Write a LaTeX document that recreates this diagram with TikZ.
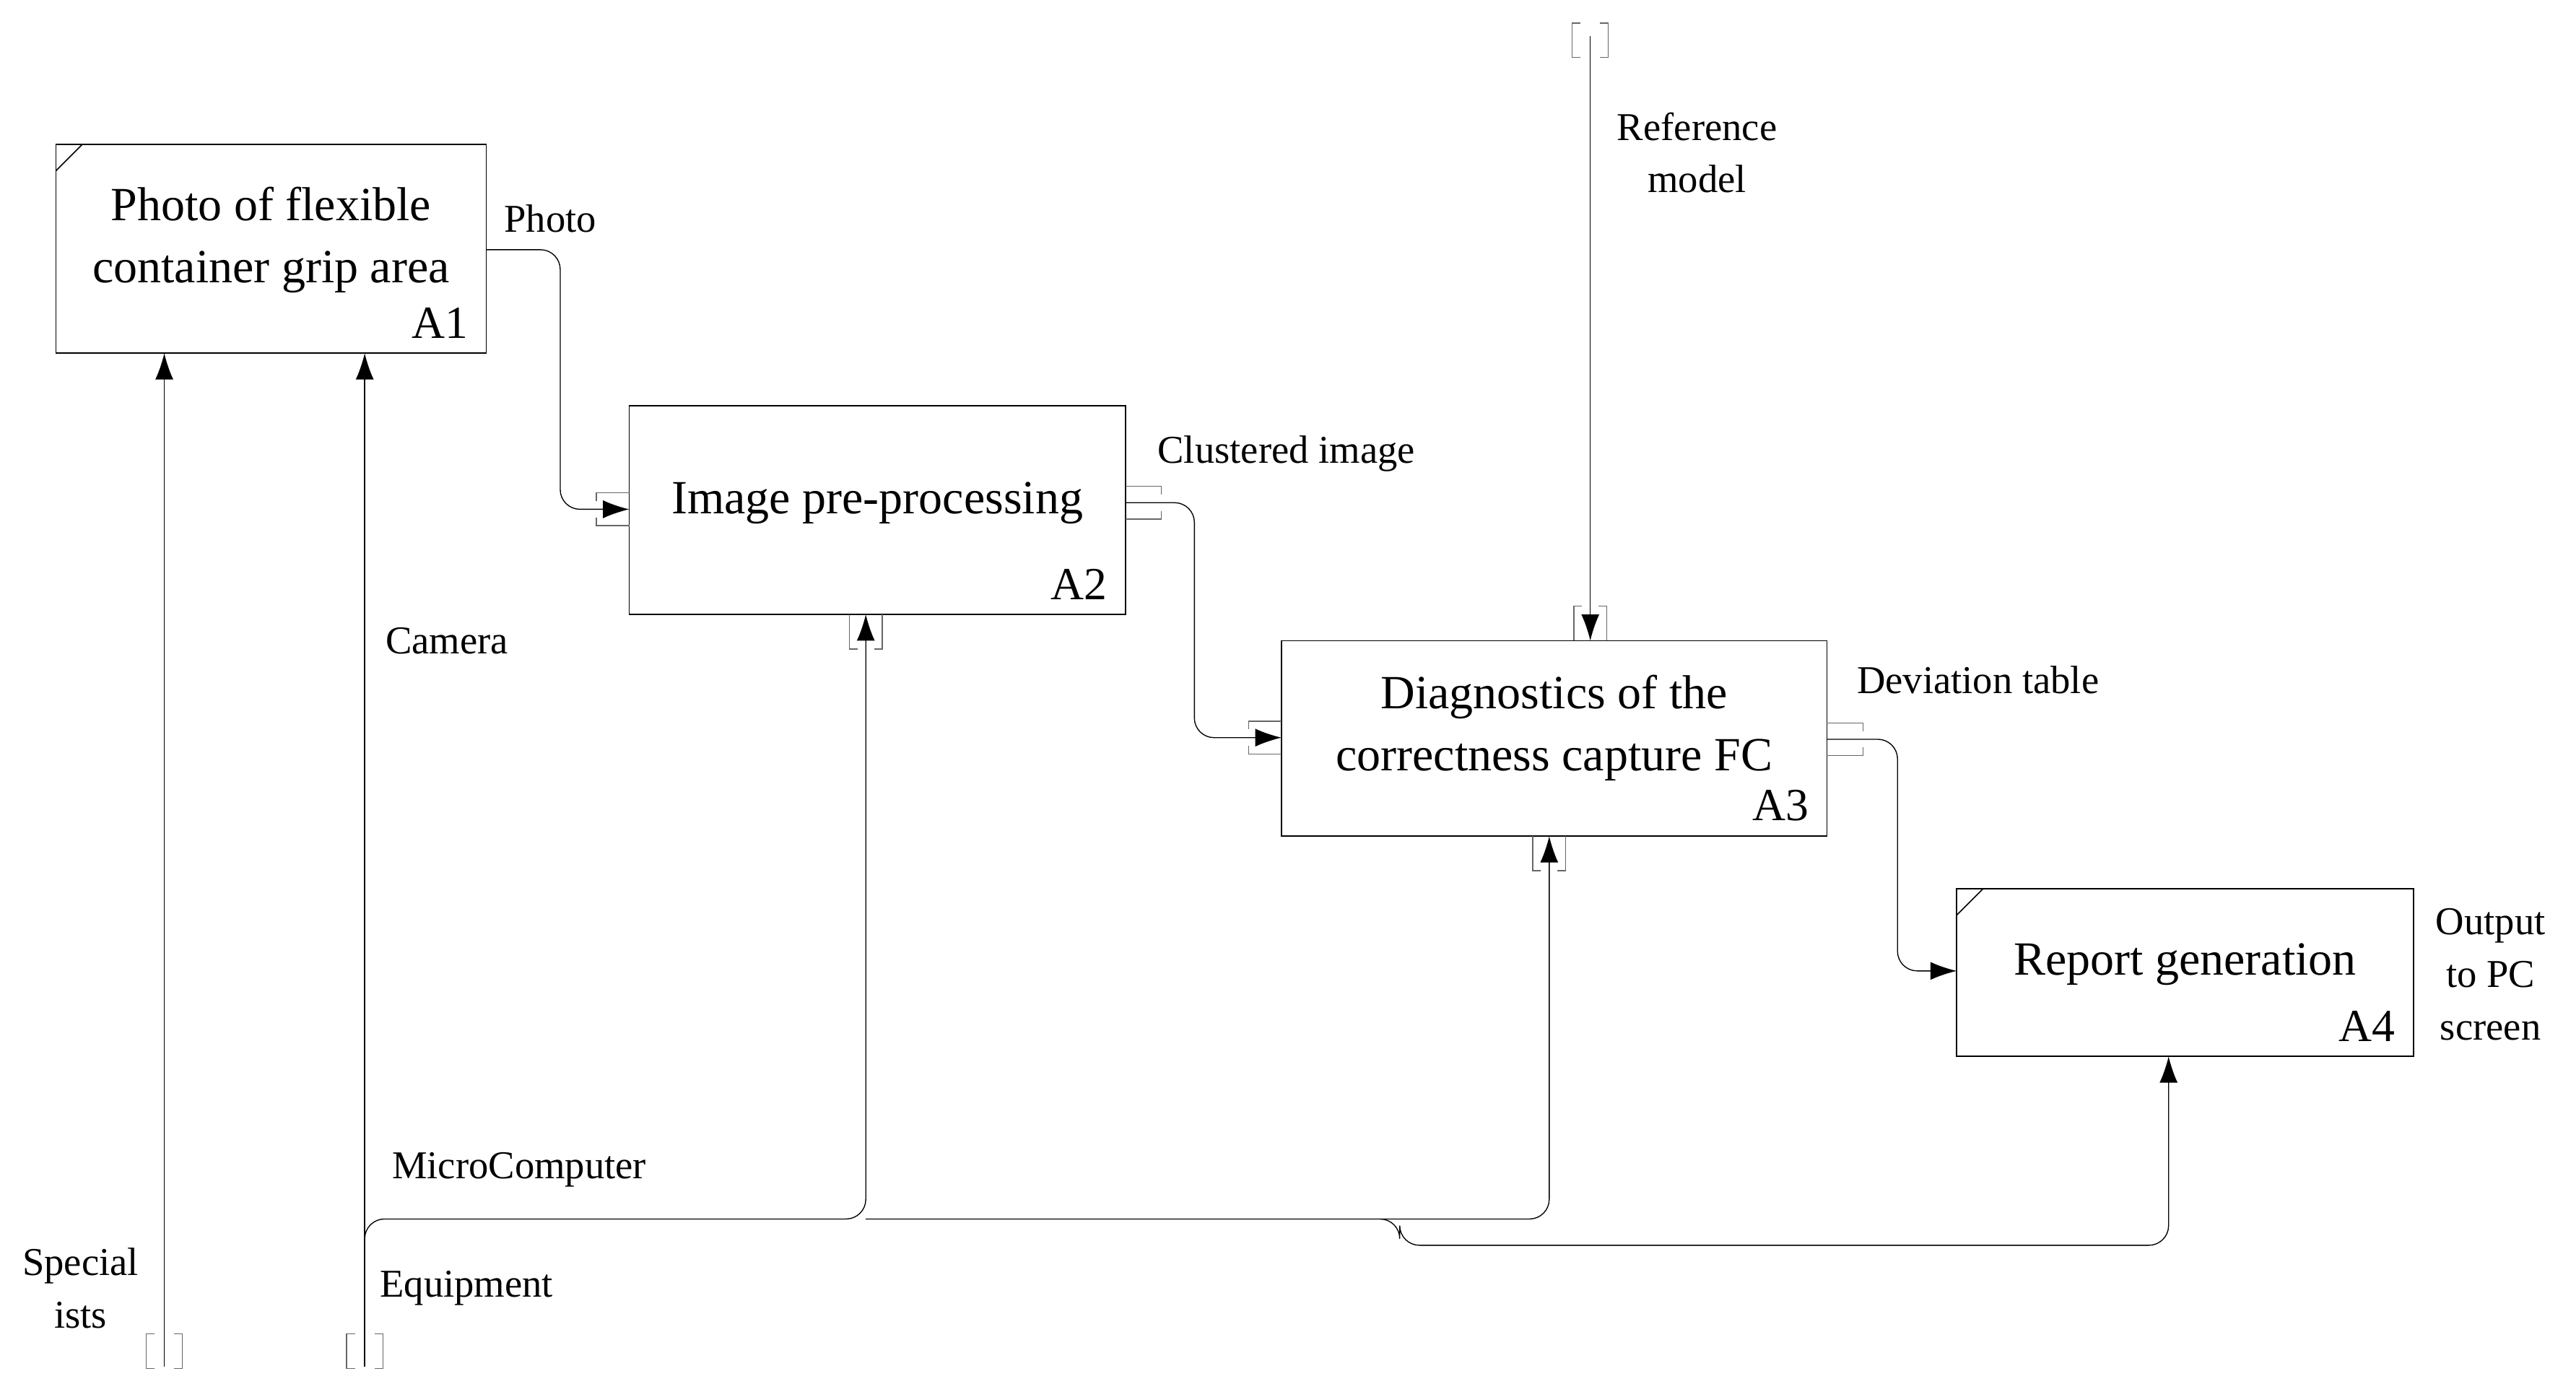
\documentclass[tikz,border=0pt]{standalone}
\usepackage{fontspec}
\setmainfont{Liberation Serif}
\usetikzlibrary{arrows.meta}
\begin{document}
\begin{tikzpicture}[x=0.5pt,y=-0.5pt,
 box/.style={draw,line width=0.35pt},
 con/.style={line width=0.3pt,-{Latex[length=8pt,width=5.5pt]},rounded corners=6pt},
 lbl/.style={font=\fontsize{12}{16}\selectfont,align=center},
 big/.style={font=\fontsize{14.5}{19}\selectfont,align=center},
 num/.style={font=\fontsize{14}{16}\selectfont},
 tun/.style={line width=0.3pt,gray!80!black}]
\useasboundingbox (0,0) rectangle (1568,850);
% boxes
\draw[box] (34,88) rectangle (296,215);
\draw[box] (34,104)--(50,88);
\node[big] (t1) at (165,146) {Photo of flexible\\container grip area};
\node[num,anchor=south east] at (292,213) {A1};
\draw[box] (383,247) rectangle (685,374);
\node[big] (t2) at (534,306) {Image pre-processing};
\node[num,anchor=south east] at (681,372) {A2};
\draw[box] (780,390) rectangle (1112,509);
\node[big] (t3) at (946,443) {Diagnostics of the\\correctness capture FC};
\node[num,anchor=south east] at (1108,507) {A3};
\draw[box] (1191,541) rectangle (1469,643);
\draw[box] (1191,557)--(1207,541);
\node[big] (t4) at (1330,587) {Report generation};
\node[num,anchor=south east] at (1465,641) {A4};
% coordinates
\coordinate (o1) at (296,152); \coordinate (i2) at (383,310);
\coordinate (o2) at (685,306); \coordinate (i3) at (780,449);
\coordinate (o3) at (1112,450); \coordinate (i4) at (1191,591);
\coordinate (rt) at (968,22); \coordinate (c3) at (968,390);
\coordinate (sb) at (100,832); \coordinate (s1) at (100,215);
\coordinate (eb) at (222,832); \coordinate (e1) at (222,215);
\coordinate (m2) at (527,374); \coordinate (m3) at (943,509); \coordinate (m4) at (1320,643);
% connectors
\draw[con] (o1)--(341,152)--(341,310)--(i2);
\draw[con] (o2)--(727,306)--(727,449)--(i3);
\draw[con] (o3)--(1155,450)--(1155,591)--(i4);
\draw[con] (rt)--(c3);
\draw[con] (sb)--(s1);
\draw[con] (eb)--(e1);
\draw[con] (222,760)--(222,742)--(527,742)--(m2);
\draw[con] (527,742)--(943,742)--(m3);
\draw[con] (840,742)--(852,742)--(852,758)--(1320,758)--(m4);
% tunnels
\foreach \x/\y in {383/310,780/449}{
 \draw[tun] (\x,\y-10)--(\x-20,\y-10)--(\x-20,\y-5);
 \draw[tun] (\x,\y+10)--(\x-20,\y+10)--(\x-20,\y+5);}
\foreach \x/\y in {685/306,1112/450}{
 \draw[tun] (\x,\y-10)--(\x+22,\y-10)--(\x+22,\y-5);
 \draw[tun] (\x,\y+10)--(\x+22,\y+10)--(\x+22,\y+5);}
\foreach \x/\y in {527/374,943/509}{
 \draw[tun] (\x-10,\y)--(\x-10,\y+21)--(\x-5,\y+21);
 \draw[tun] (\x+10,\y)--(\x+10,\y+21)--(\x+5,\y+21);}
\draw[tun] (958,390)--(958,369)--(963,369); \draw[tun] (978,390)--(978,369)--(973,369);
\foreach \x/\y in {968/14,100/812,222/812}{
 \draw[tun] (\x-6,\y)--(\x-11,\y)--(\x-11,\y+21)--(\x-6,\y+21);
 \draw[tun] (\x+6,\y)--(\x+11,\y)--(\x+11,\y+21)--(\x+6,\y+21);}
% labels
\node[lbl] (lp) at (335,133) {Photo};
\node[lbl] (lc) at (783,276) {Clustered image};
\node[lbl] (ld) at (1204,414) {Deviation table};
\node[lbl] (lr) at (1033,93) {Reference\\model};
\node[lbl] (ls) at (49,784) {Special\\ists};
\node[lbl] (lca) at (272,390) {Camera};
\node[lbl] (lm) at (316,712) {MicroComputer};
\node[lbl] (le) at (284,784) {Equipment};
\node[lbl] (lo) at (1516,593) {Output\\to PC\\screen};
\end{tikzpicture}
\end{document}
